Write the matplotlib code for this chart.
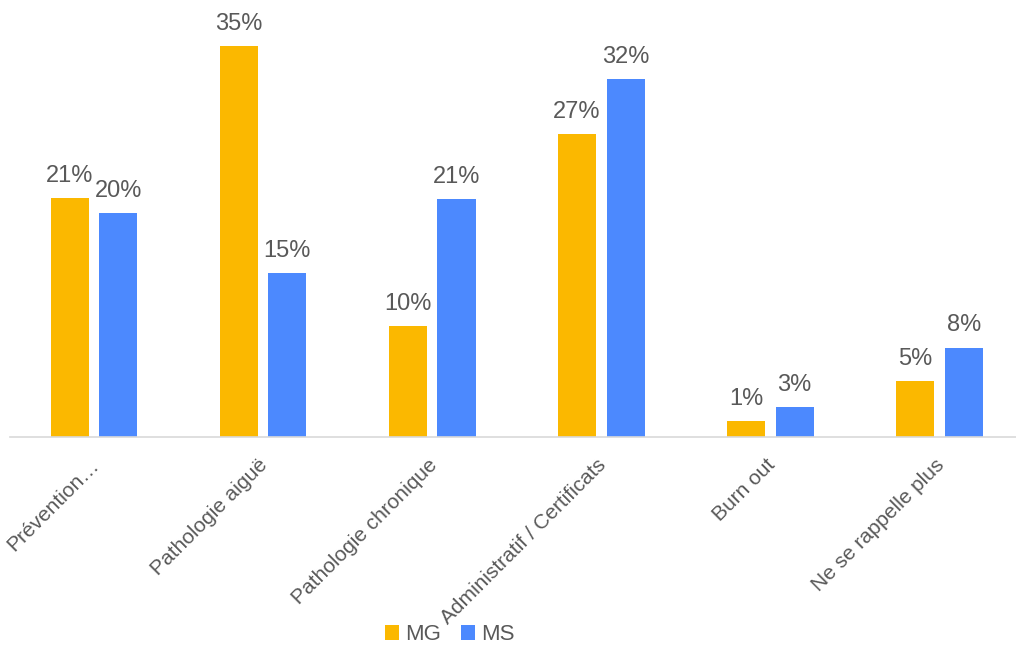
import numpy as np
import matplotlib
matplotlib.use('Agg')
import matplotlib.pyplot as plt
from matplotlib.transforms import ScaledTranslation

# Motifs de consultation, MG vs MS (%)
categories = ['Prévention…', 'Pathologie aiguë', 'Pathologie chronique',
              'Administratif / Certificats', 'Burn out', 'Ne se rappelle plus']
mg_values = [21.4, 35.0, 9.9, 27.1, 1.4, 5.0]
ms_values = [20.0, 14.7, 21.3, 32.0, 2.7, 8.0]

plt.rcParams['font.family'] = ['Liberation Sans', 'DejaVu Sans']
text_color = '#595959'

fig = plt.figure(figsize=(10.16, 6.46), dpi=100)
ax = fig.add_axes([9.5 / 1016, (646 - 437) / 646, 1014.6 / 1016, 437 / 646])

x = np.arange(len(categories))
width = 0.225
offset = 0.1434
bars_mg = ax.bar(x - offset, mg_values, width, color='#FBB800', label='MG')
bars_ms = ax.bar(x + offset, ms_values, width, color='#4C89FE', label='MS')

for bars, vals in [(bars_mg, mg_values), (bars_ms, ms_values)]:
    for b, v in zip(bars, vals):
        ax.annotate('{:.0f}%'.format(v), (b.get_x() + b.get_width() / 2, v),
                    xytext=(0, 8), textcoords='offset points',
                    ha='center', va='bottom', fontsize=17, color=text_color)

ax.set_xlim(-0.5, len(categories) - 0.5)
ax.set_ylim(0, 39.1)
ax.set_yticks([])
for side in ['top', 'right', 'left']:
    ax.spines[side].set_visible(False)
ax.spines['bottom'].set_color('#D9D9D9')
ax.spines['bottom'].set_linewidth(1.2)

ax.set_xticks(x)
ax.set_xticklabels(categories, rotation=45, ha='right', rotation_mode='anchor',
                   fontsize=15, color=text_color)
ax.tick_params(axis='x', length=0, pad=12)
shift = ScaledTranslation(-5 / 100, -2 / 100, fig.dpi_scale_trans)
for lbl in ax.get_xticklabels():
    lbl.set_transform(lbl.get_transform() + shift)

fig.legend(loc='lower center', bbox_to_anchor=(0.443, -0.03), ncol=2,
           frameon=False, fontsize=16, handlelength=0.6, handleheight=0.6,
           handletextpad=0.3, columnspacing=0.9, labelcolor=text_color)

fig.savefig('out.png', dpi=100)
